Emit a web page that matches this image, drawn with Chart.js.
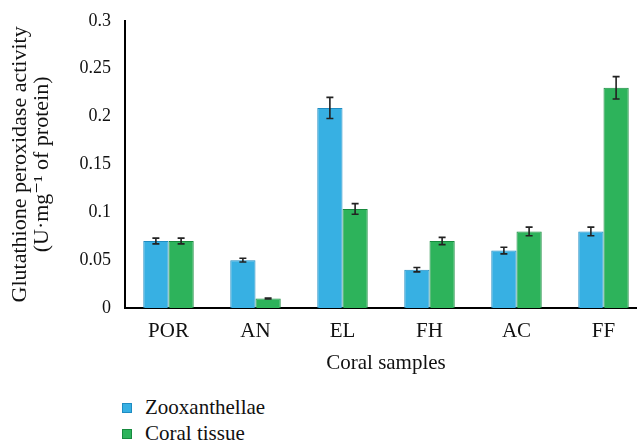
<!DOCTYPE html>
<html>
<head>
<meta charset="utf-8">
<script src="https://cdn.jsdelivr.net/npm/chart.js@4.4.0/dist/chart.umd.min.js"></script>
<style>
  body { margin: 0; background: #fff; overflow: hidden; }
  #wrap { position: relative; width: 637px; height: 441px; overflow: hidden; }
  #box { position: absolute; left: 0; top: 0; width: 650px; height: 380px; }
  #legend { position: absolute; left: 122px; top: 394px; font-family: "Liberation Serif", serif; font-size: 21px; color: #111; }
  #legend div { height: 26px; line-height: 26px; white-space: nowrap; }
  #legend span.sw { display: inline-block; box-sizing: border-box; width: 10px; height: 10px; margin-right: 13px; vertical-align: middle; position: relative; top: -1px; }
</style>
</head>
<body>
<div id="wrap">
  <div id="box"><canvas id="myChart"></canvas></div>
  <div id="legend"></div>
</div>
<script>
var samples = ["POR", "AN", "EL", "FH", "AC", "FF"];
var zooxData = [0.070, 0.050, 0.209, 0.040, 0.060, 0.080];
var zooxErr = [0.003, 0.002, 0.011, 0.0023, 0.0035, 0.0045];
var tissueData = [0.070, 0.010, 0.1035, 0.070, 0.080, 0.230];
var tissueErr = [0.003, 0.0005, 0.0055, 0.0038, 0.0045, 0.0117];
var yTicks = [0, 0.05, 0.1, 0.15, 0.2, 0.25, 0.3];

var serif = "'Liberation Serif', 'DejaVu Serif', serif";

// draws the error bars on top of each bar
var errorBars = {
  id: 'errorBars',
  afterDatasetsDraw: function(chart) {
    var ctx = chart.ctx;
    var y = chart.scales.y;
    ctx.save();
    ctx.strokeStyle = '#222';
    ctx.lineWidth = 1.6;
    chart.data.datasets.forEach(function(ds, di) {
      var meta = chart.getDatasetMeta(di);
      meta.data.forEach(function(bar, i) {
        var v = ds.data[i];
        var e = ds.errors[i];
        var top = y.getPixelForValue(v + e);
        var bot = y.getPixelForValue(v - e);
        ctx.beginPath();
        ctx.moveTo(bar.x, top); ctx.lineTo(bar.x, bot);
        ctx.moveTo(bar.x - 3.5, top); ctx.lineTo(bar.x + 3.5, top);
        ctx.moveTo(bar.x - 3.5, bot); ctx.lineTo(bar.x + 3.5, bot);
        ctx.stroke();
      });
    });
    ctx.restore();
  }
};

var ctx = document.getElementById('myChart').getContext('2d');

var myChart = new Chart(ctx, {
  type: 'bar',
  data: {
    labels: samples,
    datasets: [
      {
        label: 'Zooxanthellae',
        data: zooxData,
        errors: zooxErr,
        backgroundColor: '#37b0e3',
        borderColor: '#1f8cc2',
        borderWidth: 1
      },
      {
        label: 'Coral tissue',
        data: tissueData,
        errors: tissueErr,
        backgroundColor: '#2db35b',
        borderColor: '#178a3e',
        borderWidth: 1
      }
    ]
  },
  options: {
    responsive: true,
    maintainAspectRatio: false,
    animation: false,
    layout: { padding: { top: 14, right: 3, left: 0, bottom: 0 } },
    datasets: {
      bar: { barPercentage: 1, categoryPercentage: 0.58 }
    },
    plugins: {
      legend: { display: false },
      tooltip: { enabled: false }
    },
    scales: {
      x: {
        afterFit: function(scale) { scale.height = 72; },
        grid: { display: false, drawTicks: true, tickLength: 5 },
        border: { color: '#000', width: 2 },
        ticks: { color: '#111', font: { family: serif, size: 21 }, padding: 6 },
        title: { display: true, text: 'Coral samples', color: '#111', font: { family: serif, size: 21 }, padding: { top: 8 } }
      },
      y: {
        min: 0,
        max: 0.3,
        afterFit: function(scale) { scale.width = 125; },
        afterBuildTicks: function(scale) {
          scale.ticks = yTicks.map(function(v) { return { value: v }; });
        },
        grid: { display: false, drawTicks: true, tickLength: 4 },
        border: { color: '#000', width: 2 },
        ticks: {
          color: '#111',
          font: { family: serif, size: 18 },
          padding: 10,
          callback: function(v) { return String(Math.round(v * 100) / 100); }
        },
        title: {
          display: true,
          text: ['Glutathione peroxidase activity', '(U·mg⁻¹ of protein)'],
          color: '#111',
          font: { family: serif, size: 22, lineHeight: 1.0 },
          padding: { top: 9, bottom: 4 }
        }
      }
    }
  },
  plugins: [errorBars]
});

// legend listed under the chart, one entry per line
var legend = document.getElementById('legend');
myChart.data.datasets.forEach(function(ds) {
  var row = document.createElement('div');
  var sw = document.createElement('span');
  sw.className = 'sw';
  sw.style.background = ds.backgroundColor;
  sw.style.border = '1px solid ' + ds.borderColor;
  row.appendChild(sw);
  row.appendChild(document.createTextNode(ds.label));
  legend.appendChild(row);
});
</script>
</body>
</html>
